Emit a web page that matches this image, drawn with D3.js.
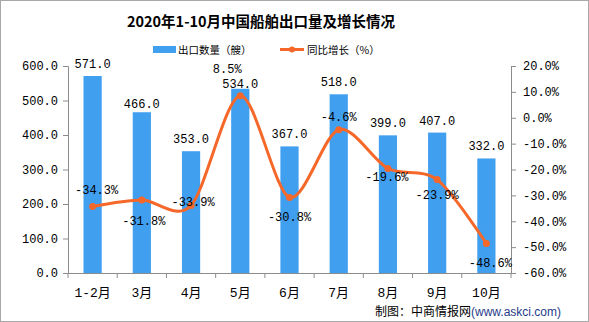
<!DOCTYPE html>
<html>
<head>
<meta charset="utf-8">
<script src="https://cdn.jsdelivr.net/npm/d3@7"></script>
<style>
  body { margin: 0; background: #fff; }
  svg { display: block; }
</style>
</head>
<body>
<div id="chart"></div>
<script>
// data
var months = ["1-2月", "3月", "4月", "5月", "6月", "7月", "8月", "9月", "10月"];
var exports = [571.0, 466.0, 353.0, 534.0, 367.0, 518.0, 399.0, 407.0, 332.0];
var growth = [-34.3, -31.8, -33.9, 8.5, -30.8, -4.6, -19.6, -23.9, -48.6];
var leftTicks = [0, 100, 200, 300, 400, 500, 600];
var rightTicks = [-60, -50, -40, -30, -20, -10, 0, 10, 20];

var W = 589, H = 322;
var margin = {top: 66, right: 78, bottom: 49, left: 68},
    width = W - margin.left - margin.right,
    height = H - margin.top - margin.bottom;

var blue = "#419ff0", orange = "#f5682a", axisCol = "#8c8c8c";
var mono = "'Liberation Mono','Noto Sans CJK SC',monospace";
var cjk = "'Noto Sans CJK SC',sans-serif";

var svg = d3.select("#chart").append("svg")
    .attr("width", W).attr("height", H);

// outer frame
svg.append("rect")
    .attr("x", 0.5).attr("y", 0.5)
    .attr("width", W - 1).attr("height", H - 1)
    .attr("fill", "#fff").attr("stroke", "#a8a8a8");

// title
svg.append("text")
    .attr("x", 261).attr("y", 27)
    .attr("text-anchor", "middle")
    .style("font-family", cjk).style("font-size", "14.5px").style("font-weight", "bold")
    .text("2020年1-10月中国船舶出口量及增长情况");

// legend
var lg = svg.append("g").style("font-family", cjk).style("font-size", "10.5px");
lg.append("rect").attr("x", 153).attr("y", 46).attr("width", 23).attr("height", 7).attr("fill", blue);
lg.append("text").attr("x", 178).attr("y", 53.5).text("出口数量（艘）");
lg.append("line").attr("x1", 280).attr("x2", 304).attr("y1", 49.5).attr("y2", 49.5)
    .attr("stroke", orange).attr("stroke-width", 3);
lg.append("circle").attr("cx", 292).attr("cy", 49.5).attr("r", 3).attr("fill", orange);
lg.append("text").attr("x", 307).attr("y", 53.5).text("同比增长（%）");

var g = svg.append("g")
    .attr("transform", "translate(" + margin.left + "," + margin.top + ")");

// scales
var x = d3.scaleBand().domain(months).range([0, width]).paddingInner(0.63).paddingOuter(0.315);
var xSlot = d3.scaleBand().domain(months).range([0, width]).padding(0);
var y = d3.scaleLinear().domain([0, 600]).range([height, 0]);
var y2 = d3.scaleLinear().domain([-60, 20]).range([height, 0]);

// left axis
var yAxis = g.append("g")
    .call(d3.axisLeft(y).tickValues(leftTicks).tickSize(5).tickPadding(5)
        .tickFormat(function(d) { return d.toFixed(1); }));
// right axis
var y2Axis = g.append("g")
    .attr("transform", "translate(" + width + ",0)")
    .call(d3.axisRight(y2).tickValues(rightTicks).tickSize(5).tickPadding(7)
        .tickFormat(function(d) { return d.toFixed(1) + "%"; }));
// bottom axis, ticks between categories
var xAxis = g.append("g")
    .attr("transform", "translate(0," + height + ")")
    .call(d3.axisBottom(xSlot).tickSize(0).tickPadding(15));
xAxis.selectAll(".bound")
    .data(months.concat(["end"]))
    .enter().append("line")
    .attr("class", "bound")
    .attr("x1", function(d, i) { return i * xSlot.step(); })
    .attr("x2", function(d, i) { return i * xSlot.step(); })
    .attr("y1", 0).attr("y2", 5)
    .attr("stroke", axisCol);

[yAxis, y2Axis, xAxis].forEach(function(a) {
    a.selectAll("path, line").attr("stroke", axisCol);
    a.selectAll("text").attr("fill", "#000")
        .style("font-family", mono).style("font-size", "12px");
});
xAxis.selectAll(".tick text").style("font-size", "13px");

// bars
g.selectAll(".bar")
    .data(exports)
    .enter().append("rect")
    .attr("class", "bar")
    .attr("x", function(d, i) { return x(months[i]); })
    .attr("y", function(d) { return y(d); })
    .attr("width", x.bandwidth())
    .attr("height", function(d) { return height - y(d); })
    .attr("fill", blue);

// bar labels (gap above the bar top, tighter where the original squeezed them)
var barGap = [8, 4, 8, 1, 8, 8, 8, 8, 8];
g.selectAll(".barlab")
    .data(exports)
    .enter().append("text")
    .attr("class", "barlab")
    .attr("x", function(d, i) { return x(months[i]) + x.bandwidth() / 2; })
    .attr("y", function(d, i) { return y(d) - barGap[i]; })
    .attr("text-anchor", "middle")
    .style("font-family", mono).style("font-size", "12px")
    .text(function(d) { return d.toFixed(1); });

// growth line
var cx = function(d, i) { return x(months[i]) + x.bandwidth() / 2; };
var line = d3.line()
    .x(cx)
    .y(function(d) { return y2(d); })
    .curve(d3.curveCardinal.tension(0.1));
g.append("path")
    .datum(growth)
    .attr("d", line)
    .attr("fill", "none")
    .attr("stroke", orange)
    .attr("stroke-width", 3);
g.selectAll(".dot")
    .data(growth)
    .enter().append("circle")
    .attr("class", "dot")
    .attr("cx", cx)
    .attr("cy", function(d) { return y2(d); })
    .attr("r", 3.5)
    .attr("fill", orange);

// growth labels, nudged like the original
var labDx = [4, 2, 2, -13, 0, 0, -1, 0, 4];
var labDy = [-13, 25, 1, -23, 24, -9, 13, 19, 23];
g.selectAll(".linelab")
    .data(growth)
    .enter().append("text")
    .attr("class", "linelab")
    .attr("x", function(d, i) { return cx(d, i) + labDx[i]; })
    .attr("y", function(d, i) { return y2(d) + labDy[i]; })
    .attr("text-anchor", "middle")
    .style("font-family", mono).style("font-size", "12px")
    .text(function(d) { return d.toFixed(1) + "%"; });

// source note
var src = svg.append("text")
    .attr("x", 375).attr("y", 316)
    .style("font-size", "12px");
src.append("tspan").style("font-family", cjk).text("制图：中商情报网");
src.append("tspan").style("font-family", "'Liberation Sans',Arial,sans-serif")
    .attr("fill", "#1f3c88").text("(www.askci.com)");
</script>
</body>
</html>
